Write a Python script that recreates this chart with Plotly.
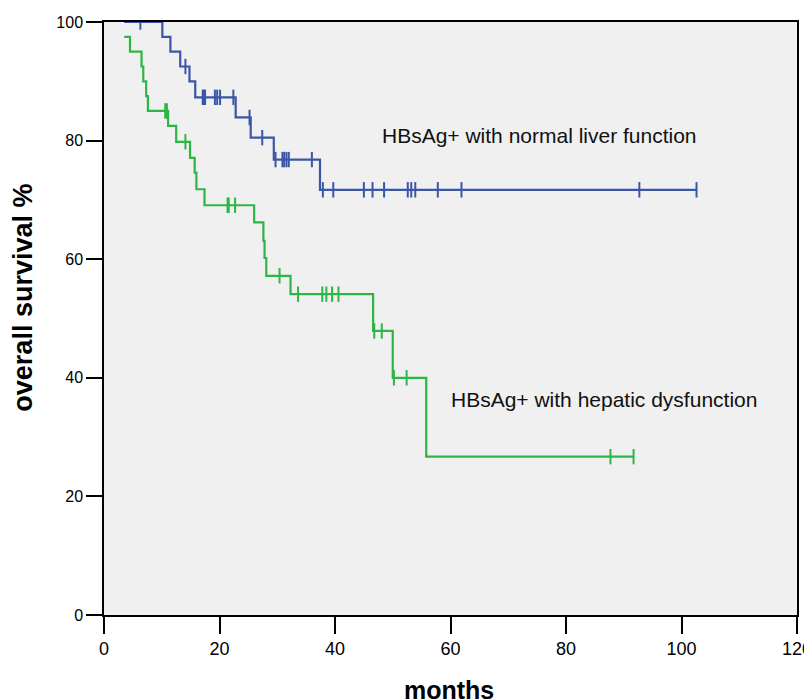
import plotly.graph_objects as go

# ---- data ----
blue_times = [3.5, 10.1, 11.5, 13.2, 14.8, 15.8, 22.8, 25.4, 29.4, 37.4, 102.6]
blue_surv = [100.0, 97.5, 95.0, 92.5, 90.0, 87.3, 83.9, 80.5, 76.8, 71.7, 71.7]
blue_censor = [6.3, 14.1, 17.1, 17.3, 17.5, 19.2, 19.6, 20.1, 22.4, 25.2, 27.4,
               29.7, 30.9, 31.2, 31.6, 32.0, 36.0, 37.9, 39.7, 45.0, 46.5, 48.5,
               52.6, 53.2, 53.9, 57.8, 61.9, 92.7, 102.6]

green_times = [3.5, 4.5, 6.5, 6.8, 7.3, 7.6, 11.1, 12.5, 14.9, 15.7, 16.0, 17.4,
               26.0, 27.6, 27.8, 28.1, 32.3, 46.6, 50.0, 55.8, 91.7]
green_surv = [97.5, 95.0, 92.5, 90.0, 87.5, 85.0, 82.5, 79.8, 77.1, 74.6, 71.8, 69.1,
              66.2, 63.1, 60.2, 57.2, 54.1, 47.9, 40.0, 26.7, 26.7]
green_censor = [10.6, 10.9, 14.1, 21.4, 21.6, 22.7, 30.4, 33.6, 37.8, 38.5, 39.5,
                40.6, 46.8, 48.1, 50.2, 52.4, 87.7, 91.7]

label_blue = "HBsAg+ with normal liver function"
label_green = "HBsAg+ with hepatic dysfunction"
x_ticks = [0, 20, 40, 60, 80, 100, 120]
y_ticks = [0, 20, 40, 60, 80, 100]

BLUE = "#3B55A7"
GREEN = "#2DB646"
FONT = "Liberation Sans, Arial, sans-serif"


def surv_at(times, surv, t):
    val = surv[0]
    for ti, si in zip(times, surv):
        if ti <= t:
            val = si
    return val


fig = go.Figure()
for times, surv, cens, col in [(blue_times, blue_surv, blue_censor, BLUE),
                               (green_times, green_surv, green_censor, GREEN)]:
    fig.add_trace(go.Scatter(x=times, y=surv, mode="lines", line_shape="hv",
                             line=dict(color=col, width=2.2), hoverinfo="skip",
                             showlegend=False))
    fig.add_trace(go.Scatter(x=cens, y=[surv_at(times, surv, t) for t in cens],
                             mode="markers",
                             marker=dict(symbol="line-ns", size=11,
                                         line=dict(color=col, width=2)),
                             showlegend=False))

fig.add_annotation(x=47.8, y=80.9, text=label_blue, showarrow=False,
                   xanchor="left", yanchor="middle",
                   font=dict(family=FONT, size=21, color="#111"))
fig.add_annotation(x=59.7, y=36.4, text=label_green, showarrow=False,
                   xanchor="left", yanchor="middle",
                   font=dict(family=FONT, size=21, color="#111"))

fig.add_annotation(xref="paper", yref="paper", x=0.498, y=-0.1265,
                   text="<b>months</b>", showarrow=False, xanchor="center",
                   yanchor="middle",
                   font=dict(family=FONT, size=25, color="#000"))
fig.add_annotation(xref="paper", yref="paper", x=-0.117, y=0.535,
                   text="<b>overall survival %</b>", showarrow=False, textangle=-90,
                   xanchor="center", yanchor="middle",
                   font=dict(family=FONT, size=27, color="#000"))

# page body adds an 8px offset; compensate in size and margins
fig.update_layout(
    width=804, height=692,
    margin=dict(l=96, r=15, t=14, b=85, autoexpand=False),
    paper_bgcolor="white", plot_bgcolor="#F0F0F0",
    showlegend=False,
)
fig.update_xaxes(range=[0, 120], tickvals=x_ticks, ticktext=[str(v) for v in x_ticks],
                 showgrid=False, zeroline=False, ticks="outside", ticklen=17,
                 tickwidth=2, tickcolor="#000", showline=True, linecolor="#000",
                 linewidth=1.5, mirror=True, ticklabeloverflow="allow",
                 automargin=False,
                 tickfont=dict(family=FONT, size=18, color="#000"))
fig.update_yaxes(range=[0, 100], tickvals=y_ticks, ticktext=[str(v) for v in y_ticks],
                 showgrid=False, zeroline=False, ticks="outside", ticklen=16,
                 tickwidth=2, tickcolor="#000", showline=True, linecolor="#000",
                 linewidth=1.5, mirror=True, ticklabeloverflow="allow",
                 automargin=False,
                 tickfont=dict(family=FONT, size=16, color="#000"))

fig.write_html("out.html")
